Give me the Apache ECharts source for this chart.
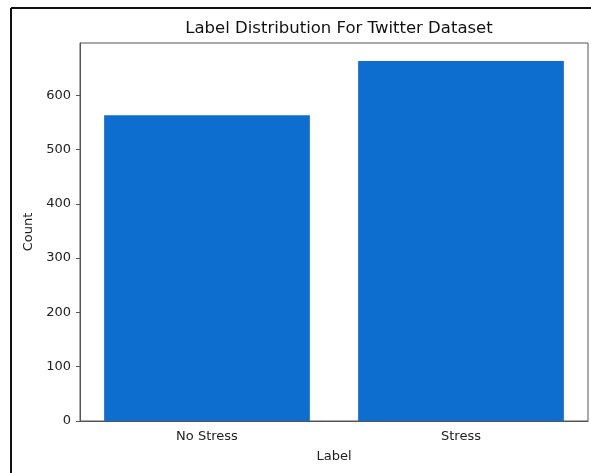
<!DOCTYPE html>
<html>
<head>
<meta charset="utf-8">
<script src="https://cdn.jsdelivr.net/npm/echarts@6/dist/echarts.min.js"></script>
<style>
  html, body { margin: 0; padding: 0; background: #fff; }
  #chart { width: 591px; height: 473px; }
</style>
</head>
<body>
<div id="chart"></div>
<script>
// data
var categories = ["No Stress", "Stress"];
var counts = [563, 663];
var yTicks = [0, 100, 200, 300, 400, 500, 600];

var FONT = "DejaVu Sans";
var chart = echarts.init(document.getElementById("chart"));

chart.setOption({
    animation: false,
    backgroundColor: "#fff",
    title: {
        text: "Label Distribution For Twitter Dataset",
        left: 334,
        top: 15,
        textAlign: "center",
        textStyle: { fontFamily: FONT, fontSize: 16.5, fontWeight: "normal", color: "#111" }
    },
    grid: {
        left: 80, right: 3, top: 43, bottom: 52,
        show: true, borderColor: "#555", borderWidth: 1, backgroundColor: "transparent"
    },
    xAxis: {
        type: "category",
        data: categories,
        name: "Label",
        nameLocation: "middle",
        nameGap: 29,
        nameTextStyle: { fontFamily: FONT, fontSize: 13, color: "#222" },
        axisLine: { lineStyle: { color: "#555" } },
        axisTick: { alignWithLabel: true, length: 4, lineStyle: { color: "#555" } },
        axisLabel: { fontFamily: FONT, fontSize: 13, color: "#222", margin: 9 }
    },
    yAxis: {
        type: "value",
        min: 0,
        max: 696,
        interval: 100,
        name: "Count",
        nameLocation: "middle",
        nameGap: 44,
        nameTextStyle: { fontFamily: FONT, fontSize: 13, color: "#222" },
        axisLine: { show: true, lineStyle: { color: "#555" } },
        axisTick: { show: true, length: 4, lineStyle: { color: "#555" } },
        splitLine: { show: false },
        axisLabel: {
            fontFamily: FONT, fontSize: 13, color: "#222", margin: 9,
            showMaxLabel: false,
            formatter: function (v) { return yTicks.indexOf(v) >= 0 ? String(v) : ""; }
        }
    },
    series: [{
        type: "bar",
        data: counts,
        barWidth: "81%",
        itemStyle: { color: "#0e6ecf" }
    }],
    graphic: [
        { type: "line", shape: { x1: 11, y1: 8, x2: 591, y2: 8 }, style: { stroke: "#111", lineWidth: 2 } },
        { type: "line", shape: { x1: 11, y1: 8, x2: 11, y2: 473 }, style: { stroke: "#111", lineWidth: 2 } }
    ]
});
</script>
</body>
</html>
